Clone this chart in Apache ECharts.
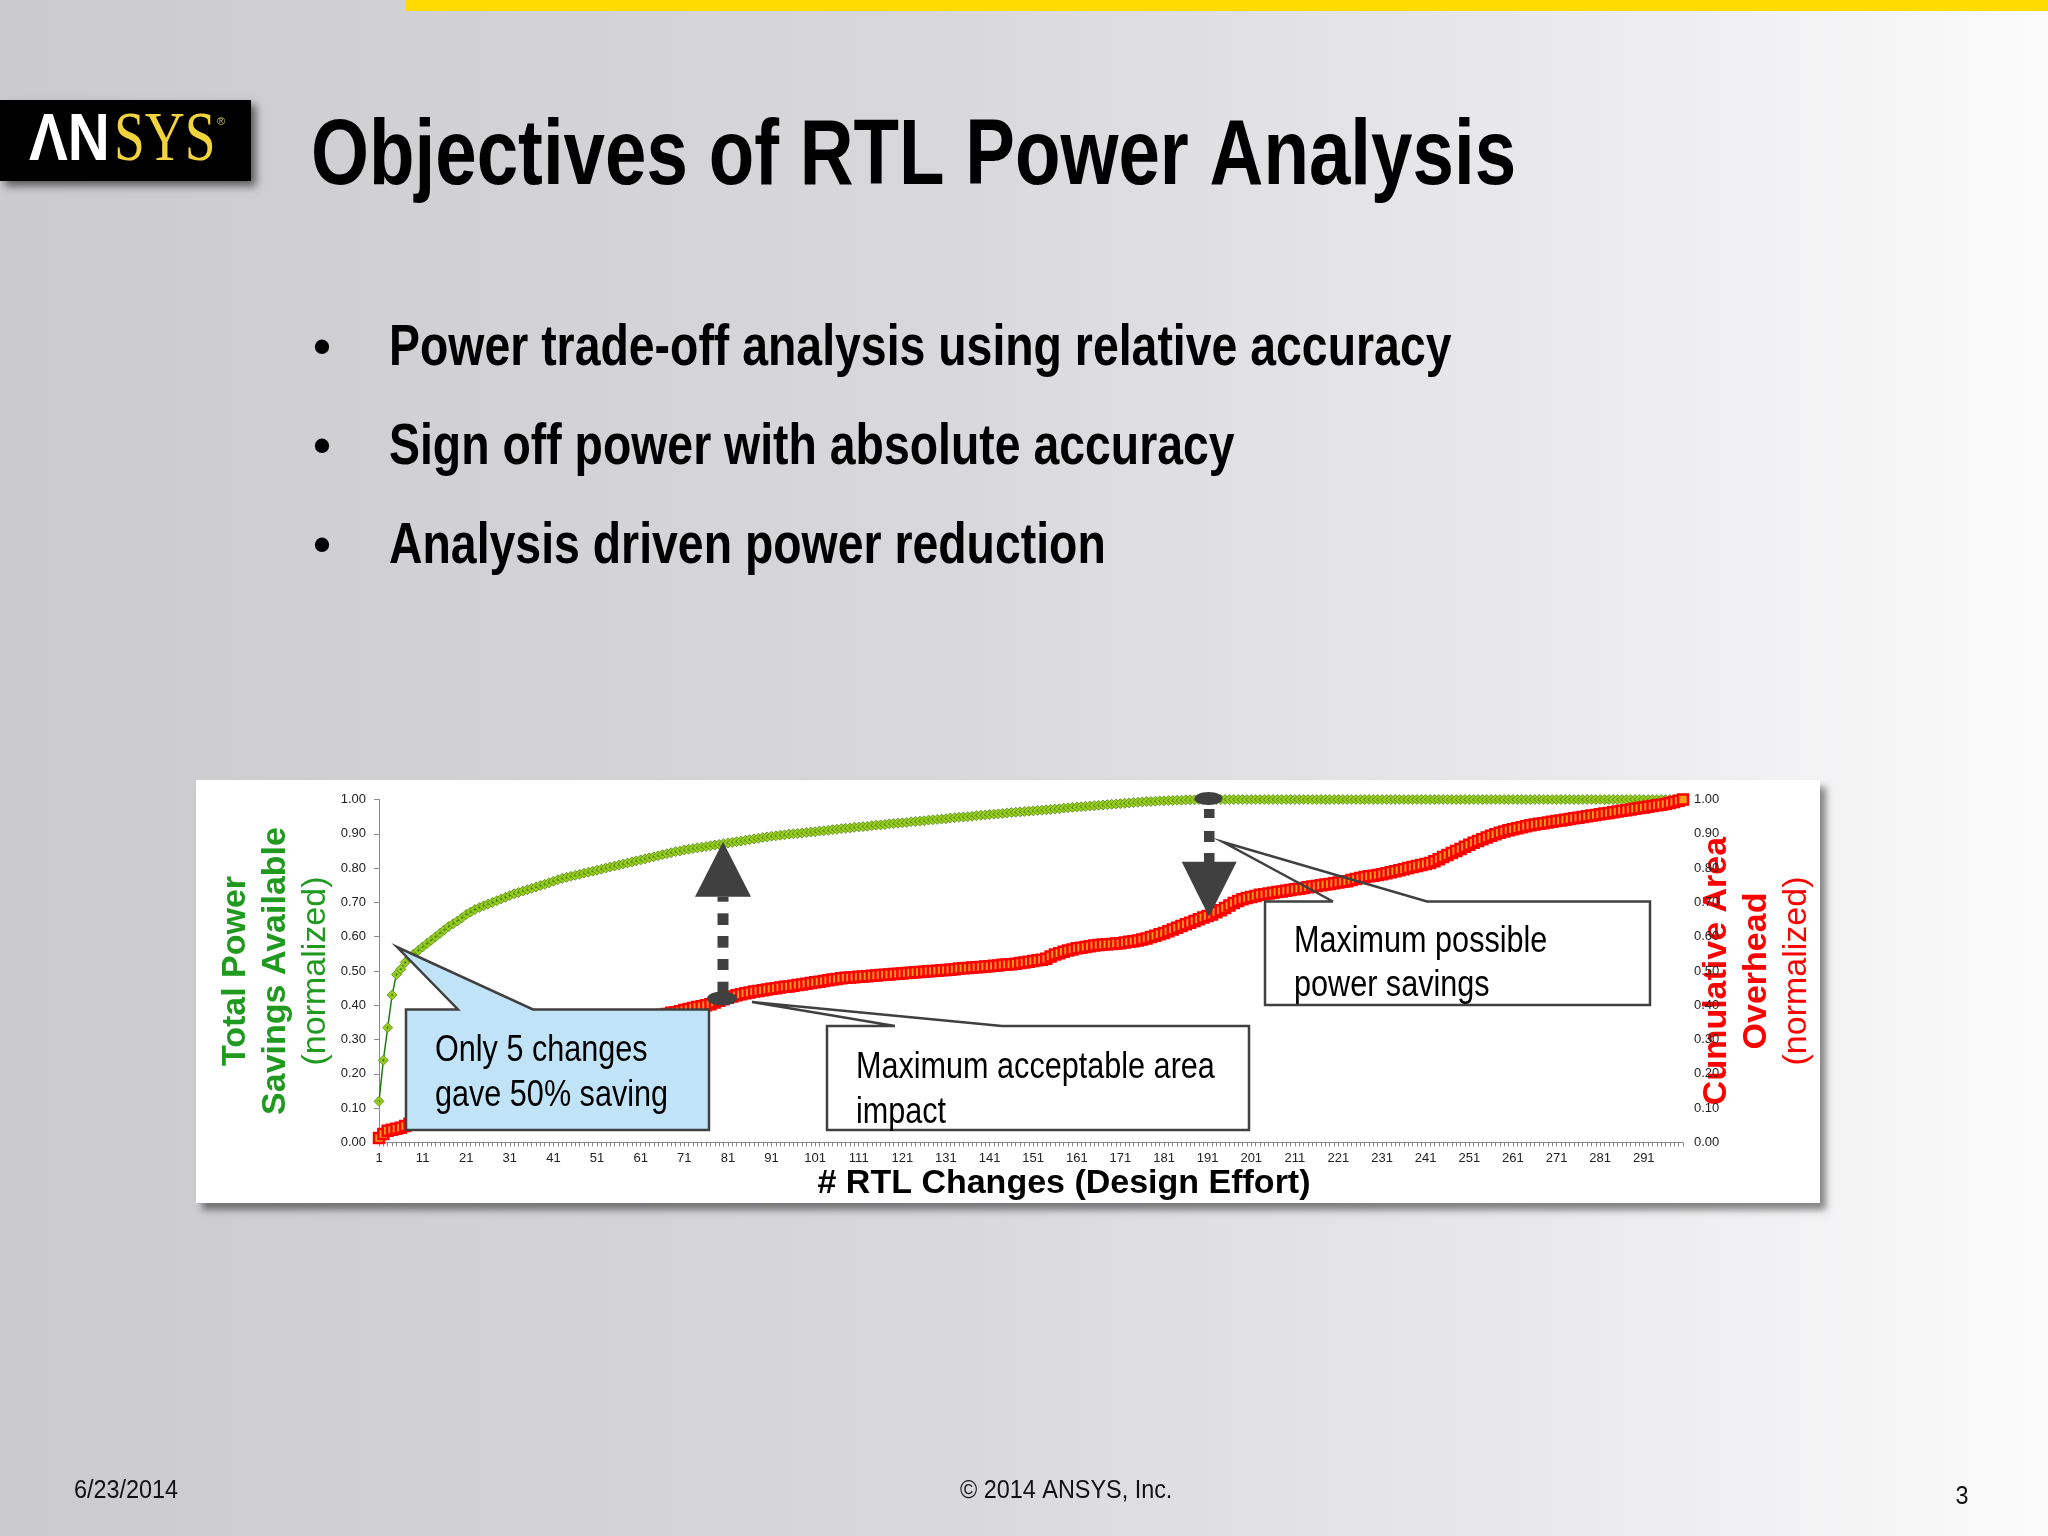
<!DOCTYPE html>
<html><head><meta charset="utf-8">
<script src="https://cdn.jsdelivr.net/npm/echarts@6/dist/echarts.min.js"></script>
<style>html,body{margin:0;padding:0;background:#fff}#c{width:2048px;height:1536px}</style>
</head><body><div id="c"></div>
<script>
// ---------------- data ----------------
const categories = Array.from({length: 300}, (_, i) => String(i + 1));

const totalPowerSavings = [
0.12,0.24,0.335,0.43,0.49,0.505,0.525,0.54,0.55,0.56,
0.57,0.58,0.59,0.60,0.61,0.62,0.63,0.638,0.646,0.655,
0.665,0.672,0.679,0.685,0.69,0.695,0.70,0.705,0.71,0.715,
0.72,0.725,0.729,0.733,0.737,0.741,0.745,0.749,0.753,0.757,
0.762,0.766,0.77,0.773,0.776,0.779,0.782,0.785,0.788,0.791,
0.794,0.797,0.8,0.803,0.806,0.809,0.812,0.815,0.818,0.821,
0.824,0.827,0.83,0.833,0.836,0.839,0.842,0.845,0.848,0.85,
0.853,0.855,0.857,0.859,0.861,0.863,0.865,0.867,0.869,0.871,
0.873,0.875,0.877,0.879,0.881,0.883,0.885,0.887,0.889,0.891,
0.893,0.894,0.896,0.897,0.899,0.9,0.901,0.902,0.904,0.905,
0.906,0.908,0.909,0.91,0.912,0.913,0.915,0.916,0.917,0.919,
0.92,0.921,0.922,0.924,0.925,0.926,0.927,0.929,0.93,0.931,
0.932,0.933,0.935,0.936,0.937,0.938,0.94,0.941,0.942,0.943,
0.944,0.946,0.947,0.948,0.949,0.95,0.951,0.953,0.954,0.955,
0.956,0.957,0.958,0.959,0.961,0.962,0.963,0.964,0.965,0.966,
0.967,0.968,0.969,0.97,0.971,0.972,0.973,0.975,0.976,0.977,
0.978,0.979,0.98,0.981,0.982,0.983,0.984,0.985,0.986,0.987,
0.988,0.989,0.99,0.991,0.992,0.993,0.994,0.994,0.995,0.996,
0.996,0.997,0.997,0.998,0.998,0.999,0.999,0.999,1,1,
1,1,1,1,1,1,1,1,1,1,
1,1,1,1,1,1,1,1,1,1,
1,1,1,1,1,1,1,1,1,1,
1,1,1,1,1,1,1,1,1,1,
1,1,1,1,1,1,1,1,1,1,
1,1,1,1,1,1,1,1,1,1,
1,1,1,1,1,1,1,1,1,1,
1,1,1,1,1,1,1,1,1,1,
1,1,1,1,1,1,1,1,1,1,
1,1,1,1,1,1,1,1,1,1,
1,1,1,1,1,1,1,1,1,1
];

const cumulativeAreaOverhead = [
0.013,0.025,0.034,0.037,0.04,0.043,0.048,0.055,0.06,0.065,
0.07,0.075,0.08,0.09,0.095,0.10,0.11,0.115,0.12,0.13,
0.135,0.14,0.15,0.155,0.16,0.17,0.175,0.18,0.19,0.195,
0.20,0.21,0.215,0.22,0.23,0.235,0.24,0.25,0.255,0.26,
0.265,0.27,0.275,0.28,0.285,0.29,0.295,0.30,0.305,0.31,
0.315,0.32,0.325,0.33,0.335,0.34,0.343,0.346,0.35,0.353,
0.356,0.36,0.363,0.366,0.37,0.372,0.375,0.378,0.38,0.383,
0.386,0.389,0.392,0.395,0.397,0.40,0.403,0.408,0.413,0.418,
0.422,0.426,0.429,0.432,0.435,0.437,0.44,0.442,0.444,0.446,
0.448,0.45,0.452,0.454,0.455,0.457,0.459,0.461,0.463,0.465,
0.467,0.469,0.471,0.473,0.475,0.477,0.479,0.48,0.481,0.482,
0.483,0.484,0.485,0.486,0.487,0.488,0.489,0.49,0.491,0.492,
0.493,0.494,0.495,0.496,0.497,0.498,0.499,0.5,0.501,0.502,
0.503,0.504,0.505,0.507,0.508,0.509,0.51,0.511,0.512,0.513,
0.514,0.515,0.516,0.518,0.519,0.52,0.521,0.523,0.525,0.527,
0.529,0.531,0.533,0.536,0.542,0.548,0.552,0.556,0.56,0.563,
0.566,0.568,0.57,0.572,0.574,0.576,0.577,0.578,0.579,0.58,
0.581,0.583,0.585,0.587,0.589,0.592,0.595,0.599,0.603,0.607,
0.611,0.616,0.621,0.626,0.631,0.636,0.641,0.646,0.651,0.656,
0.66,0.665,0.671,0.677,0.684,0.691,0.698,0.704,0.709,0.713,
0.716,0.719,0.722,0.724,0.726,0.728,0.73,0.732,0.734,0.736,
0.738,0.74,0.742,0.744,0.746,0.748,0.75,0.752,0.754,0.756,
0.758,0.76,0.762,0.765,0.768,0.771,0.774,0.776,0.778,0.78,
0.782,0.785,0.788,0.791,0.794,0.797,0.8,0.803,0.806,0.809,
0.812,0.815,0.82,0.826,0.832,0.838,0.844,0.85,0.856,0.862,
0.868,0.874,0.879,0.884,0.889,0.894,0.899,0.903,0.907,0.91,
0.913,0.916,0.919,0.922,0.925,0.927,0.929,0.931,0.933,0.935,
0.937,0.939,0.941,0.943,0.945,0.947,0.949,0.951,0.953,0.955,
0.957,0.959,0.961,0.963,0.965,0.967,0.969,0.971,0.973,0.975,
0.977,0.979,0.981,0.983,0.985,0.987,0.99,0.993,0.996,1.0
];

const slideTitle = 'Objectives of RTL Power Analysis';
const bullets = [
  'Power trade-off analysis using relative accuracy',
  'Sign off power with absolute accuracy',
  'Analysis driven power reduction'
];
const callout1 = ['Only 5 changes', 'gave 50% saving'];
const callout2 = ['Maximum acceptable area', 'impact'];
const callout3 = ['Maximum possible', 'power savings'];
const footerDate = '6/23/2014';
const footerCopy = '\u00A9 2014 ANSYS, Inc.';
const footerPage = '3';

// ---------------- helpers ----------------
const SANS = '"Liberation Sans", Arial, sans-serif';
const SERIF = '"Liberation Serif", "Times New Roman", serif';
function txt(x, y, text, size, o) {
  o = o || {};
  return {
    type: 'text', x: x, y: y, z: o.z != null ? o.z : 50,
    scaleX: o.sx || 1, scaleY: o.sy || 1,
    style: {
      text: text, x: 0, y: 0,
      fill: o.fill || '#000',
      fontSize: size, fontFamily: o.family || SANS,
      fontWeight: o.bold ? 'bold' : 'normal',
      align: o.align || 'left', verticalAlign: 'middle',
      textAlign: o.align || 'left', textVerticalAlign: 'middle'
    }
  };
}
const ARW = '#404040';
const BOX_STROKE = '#404040';

const graphics = [];
// slide background
graphics.push({type: 'rect', z: -100, shape: {x: 0, y: 0, width: 2048, height: 1536},
  style: {fill: new echarts.graphic.LinearGradient(0, 0, 1, 0, [
    {offset: 0, color: '#cbcbce'}, {offset: 0.45, color: '#d8d8db'},
    {offset: 0.75, color: '#e9e9eb'}, {offset: 1, color: '#fbfbfc'}])}});
// yellow top bar
graphics.push({type: 'rect', z: -90, shape: {x: 406, y: 0, width: 1642, height: 11}, style: {fill: '#ffdb00'}});
// logo
graphics.push({type: 'rect', z: -90, shape: {x: 0, y: 100, width: 251, height: 81},
  style: {fill: '#000', shadowBlur: 8, shadowColor: 'rgba(0,0,0,0.55)', shadowOffsetX: 5, shadowOffsetY: 5}});
graphics.push(txt(29, 141, '\u039BN', 60, {bold: true, fill: '#fff', sx: 0.97, sy: 1.12, z: -80}));
graphics.push(txt(114, 142, 'SYS', 66, {family: SERIF, fill: '#f1d33e', sx: 0.84, sy: 1.05, z: -80}));
graphics.push(txt(217, 122, '\u00AE', 11, {fill: '#cfc070', z: -80}));
// title + bullets
graphics.push(txt(311, 159, slideTitle, 92, {bold: true, sx: 0.81, z: -80}));
const bulletY = [349, 448, 547];
bullets.forEach((b, i) => {
  graphics.push(txt(322, bulletY[i], '\u2022', 50, {bold: true, align: 'center', z: -80}));
  graphics.push(txt(389, bulletY[i], b, 58, {bold: true, sx: 0.80, z: -80}));
});
// footer
graphics.push(txt(74, 1491, footerDate, 26, {sx: 0.9, fill: '#111', z: -80}));
graphics.push(txt(960, 1491, footerCopy, 26, {sx: 0.9, fill: '#111', z: -80}));
graphics.push(txt(1962, 1497, footerPage, 26, {sx: 0.9, fill: '#111', align: 'center', z: -80}));
// chart panel
graphics.push({type: 'rect', z: -50, shape: {x: 196, y: 780, width: 1624, height: 423},
  style: {fill: '#fff', shadowBlur: 7, shadowColor: 'rgba(0,0,0,0.45)', shadowOffsetX: 6, shadowOffsetY: 7}});

// callout 1 (blue)
graphics.push({type: 'polygon', z: 100, shape: {points: [[406,1009.5],[458,1009.5],[397,947],[533,1009.5],[709,1009.5],[709,1130],[406,1130]]},
  style: {fill: '#c1e3f7', stroke: BOX_STROKE, lineWidth: 2.5, lineJoin: 'miter'}});
graphics.push(txt(435, 1051.5, callout1[0], 36, {sx: 0.85, z: 101}));
graphics.push(txt(435, 1096.5, callout1[1], 36, {sx: 0.85, z: 101}));
// callout 2
graphics.push({type: 'rect', z: 100, shape: {x: 827, y: 1026, width: 422, height: 104}, style: {fill: '#fff', stroke: null}});
graphics.push({type: 'polyline', z: 101, shape: {points: [[895,1026],[752,1002],[1002,1026],[1249,1026],[1249,1130],[827,1130],[827,1026],[895,1026]]},
  style: {fill: null, stroke: BOX_STROKE, lineWidth: 2.5}});
graphics.push(txt(856, 1068, callout2[0], 36, {sx: 0.85, z: 102}));
graphics.push(txt(856, 1113, callout2[1], 36, {sx: 0.85, z: 102}));
// callout 3
graphics.push({type: 'rect', z: 100, shape: {x: 1265, y: 901.5, width: 385, height: 103.5}, style: {fill: '#fff', stroke: null}});
graphics.push({type: 'polyline', z: 101, shape: {points: [[1333,901.5],[1223,842],[1427,901.5],[1650,901.5],[1650,1005],[1265,1005],[1265,901.5],[1333,901.5]]},
  style: {fill: null, stroke: BOX_STROKE, lineWidth: 2.5}});
graphics.push(txt(1294, 942.5, callout3[0], 36, {sx: 0.85, z: 102}));
graphics.push(txt(1294, 986.5, callout3[1], 36, {sx: 0.85, z: 102}));

// up arrow (at change ~80)
graphics.push({type: 'polygon', z: 100, shape: {points: [[723,841.7],[751,896.7],[695,896.7]]}, style: {fill: ARW}});
[[896.7,901.7],[913.3,925],[936,947.7],[959,970],[981.7,993.3]].forEach(d => {
  graphics.push({type: 'rect', z: 100, shape: {x: 717.5, y: d[0], width: 11, height: d[1] - d[0]}, style: {fill: ARW}});
});
graphics.push({type: 'ellipse', z: 100, shape: {cx: 722, cy: 998.5, rx: 15, ry: 7}, style: {fill: ARW}});
// down arrow (at change ~191)
graphics.push({type: 'ellipse', z: 100, shape: {cx: 1208.5, cy: 798.5, rx: 14, ry: 6.5}, style: {fill: ARW}});
[[809,818],[831,842],[853,862]].forEach(d => {
  graphics.push({type: 'rect', z: 100, shape: {x: 1204, y: d[0], width: 10.5, height: d[1] - d[0]}, style: {fill: ARW}});
});
graphics.push({type: 'polygon', z: 100, shape: {points: [[1181.7,861.7],[1236.7,861.7],[1209,916.7]]}, style: {fill: ARW}});

// ---------------- chart ----------------
const GREEN_T = '#1f9a1f';
const RED_T = '#ff0000';
const yLabel = {fontSize: 13, color: '#222', fontFamily: SANS, formatter: v => v.toFixed(2)};

const option = {
  animation: false,
  backgroundColor: 'transparent',
  grid: {left: 379, right: 365, top: 799.5, bottom: 393.5, containLabel: false},
  xAxis: {
    type: 'category', data: categories, boundaryGap: false,
    name: '# RTL Changes (Design Effort)', nameLocation: 'middle', nameGap: 24, nameMoveOverlap: false,
    nameTextStyle: {fontSize: 34, fontWeight: 'bold', color: '#000', fontFamily: SANS, lineHeight: 34, padding: [0, 0, 0, 66]},
    axisLine: {show: true, lineStyle: {color: '#8a8a8a', width: 1}},
    axisTick: {show: true, interval: 0, length: 4, lineStyle: {color: '#8a8a8a'}},
    axisLabel: {interval: 9, fontSize: 13, color: '#222', fontFamily: SANS, margin: 9, hideOverlap: false},
    splitLine: {show: false}
  },
  yAxis: [{
    type: 'value', min: 0, max: 1, interval: 0.1, position: 'left',
    name: '{b|Total Power}\n{b|Savings Available}\n{n|(normalized)}',
    nameLocation: 'middle', nameRotate: 90, nameGap: 43, nameMoveOverlap: false,
    nameTextStyle: {rich: {
      b: {fontSize: 34, fontWeight: 'bold', color: GREEN_T, fontFamily: SANS, lineHeight: 40},
      n: {fontSize: 34, color: GREEN_T, fontFamily: SANS, lineHeight: 40}}},
    axisLine: {show: true, lineStyle: {color: '#8a8a8a', width: 1}},
    axisTick: {show: true, length: 5, lineStyle: {color: '#8a8a8a'}},
    axisLabel: Object.assign({margin: 13}, yLabel),
    splitLine: {show: false}
  }, {
    type: 'value', min: 0, max: 1, interval: 0.1, position: 'right',
    name: '{b|Cumulative Area}\n{b|Overhead}\n{n|(normalized)}',
    nameLocation: 'middle', nameRotate: 90, nameGap: 14, nameMoveOverlap: false,
    nameTextStyle: {rich: {
      b: {fontSize: 34, fontWeight: 'bold', color: RED_T, fontFamily: SANS, lineHeight: 40},
      n: {fontSize: 34, color: RED_T, fontFamily: SANS, lineHeight: 40}}},
    axisLine: {show: false},
    axisTick: {show: false},
    axisLabel: Object.assign({margin: 11}, yLabel),
    splitLine: {show: false}
  }],
  series: [{
    name: 'Total Power Savings Available', type: 'line', yAxisIndex: 0,
    data: totalPowerSavings, showAllSymbol: true,
    symbol: 'path://M0,-5L5,0L0,5L-5,0ZM0,-1.2L-1.2,0L0,1.2L1.2,0Z', symbolSize: 10,
    lineStyle: {color: '#1d7d14', width: 1.5},
    itemStyle: {color: '#9acd1e', borderColor: '#4f8a10', borderWidth: 0.8},
    z: 3
  }, {
    name: 'Cumulative Area Overhead', type: 'line', yAxisIndex: 1,
    data: cumulativeAreaOverhead, showAllSymbol: true,
    symbol: 'rect', symbolSize: 10,
    lineStyle: {color: '#ff0000', width: 2},
    itemStyle: {color: '#ff9a1a', borderColor: '#ff0000', borderWidth: 2.5},
    z: 4
  }],
  graphic: {elements: graphics}
};

const chart = echarts.init(document.getElementById('c'), null, {renderer: 'canvas', width: 2048, height: 1536});
chart.setOption(option);
</script>
</body></html>
